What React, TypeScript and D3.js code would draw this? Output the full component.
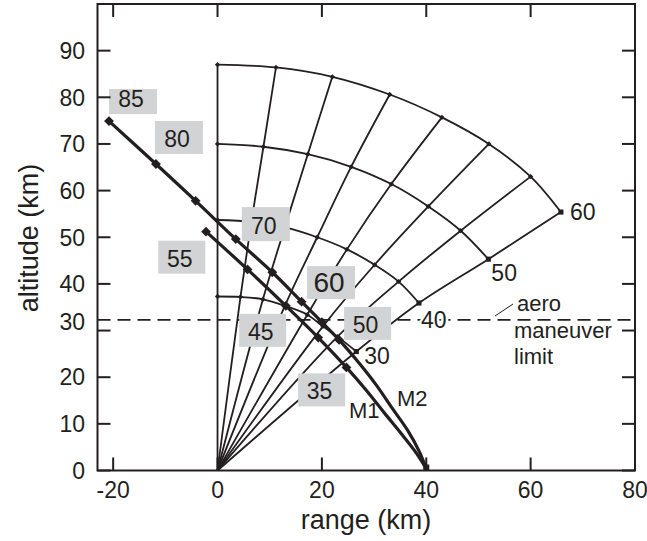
import React from 'react'
import * as d3 from 'd3'

type Pt = [number, number]

// flight-time contours (s); each row = crossing points of the 8 fan paths
const contourTimes = [30, 40, 50, 60]
const contour30: Pt[] = [[0, 37.3], [4.4, 37.2], [8.7, 36.7], [12.9, 35.3], [17.2, 33.4], [20.2, 30.9], [23, 28.7], [26.6, 25.5]]
const contour40: Pt[] = [[0, 53.7], [6.5, 53.3], [12.9, 52.1], [19.1, 50], [24.8, 47.4], [30.1, 44.1], [34.7, 40.5], [38.6, 35.9]]
const contour50: Pt[] = [[0, 70], [8.8, 69.4], [17.3, 67.8], [25.6, 65.1], [33.3, 61.4], [40.4, 56.6], [46.6, 51.4], [51.9, 45.3]]
const contour60: Pt[] = [[0, 87], [11.2, 86.4], [22, 84.4], [33, 80.6], [43, 75.7], [52, 70], [60, 63], [65.8, 55.4]]
const contours = [contour30, contour40, contour50, contour60]

// threat trajectories, first points carry time marks (s)
const m2Path: Pt[] = [[-20.8, 74.9], [-11.8, 65.7], [-4.2, 57.8], [3.5, 49.6], [10.5, 42.5], [16.1, 36.2], [20, 31.8], [23.3, 28], [27, 23.2], [30.5, 18.2], [33.5, 13.3], [36.5, 8.5], [38.6, 4.2], [40, 0.4]]
const m2Times = [85, 80, 75, 70, 65, 60, 55, 50]
const m2Boxed = [85, 80, 70, 60, 50]
const m1Path: Pt[] = [[-2.2, 51.2], [5.75, 43.1], [13.1, 35.3], [19.3, 28.5], [24.7, 22.1], [28.5, 17.2], [32, 12.3], [35, 8.2], [37.8, 4.2], [40, 0.4]]
const m1Times = [55, 50, 45, 40, 35]
const m1Boxed = [55, 45, 35]

const aeroLimit = 32.3
const xTicks = [-20, 0, 20, 40, 60, 80]
const yTicks = [0, 10, 20, 30, 40, 50, 60, 70, 80, 90]

const W = 647
const H = 541
const ink = '#231f20'
const boxFill = '#d1d3d4'
const font = '"Liberation Sans", Arial, Helvetica, sans-serif'

// box placement relative to its marker (px)
const boxPlace: Record<string, { dx: number; dy: number; w: number; h: number; fs: number }> = {
  'M2-85': { dx: 0, dy: -32, w: 48, h: 25, fs: 23 },
  'M2-80': { dx: -1, dy: -43, w: 48, h: 33, fs: 23 },
  'M2-70': { dx: 6, dy: -32, w: 48, h: 34, fs: 23 },
  'M2-60': { dx: 5.5, dy: -35.5, w: 48, h: 33, fs: 28 },
  'M2-50': { dx: 5, dy: -33, w: 47, h: 33, fs: 23 },
  'M1-55': { dx: -47.7, dy: 9, w: 47, h: 33, fs: 23 },
  'M1-45': { dx: -46.7, dy: 8, w: 47, h: 33, fs: 23 },
  'M1-35': { dx: -48.3, dy: 6, w: 47, h: 33, fs: 23 },
}

// contour end labels, offset from last point (px)
const endLabelOffset: Record<number, [number, number]> = {
  30: [8, 12],
  40: [2, 25],
  50: [3, 22],
  60: [9, 8],
}

const App = () => {
  const x = d3.scaleLinear().domain([-23, 80]).range([97.5, 635])
  const y = d3.scaleLinear().domain([0, 100]).range([470.5, 4])

  const smooth = d3
    .line<Pt>()
    .x((d) => x(d[0]))
    .y((d) => y(d[1]))
    .curve(d3.curveCatmullRom.alpha(0.5))

  const rays: Pt[][] = contour30.map((_, i) => [[0, 0], ...contours.map((c) => c[i])])

  const diamond = (size: number) => d3.symbol(d3.symbolSquare, size)()
  const [x0, x1] = x.range()
  const [y0, y1] = y.range()
  const tickLen = 13

  const marks = (path: Pt[], times: number[], boxed: number[], name: string) =>
    times.map((t, i) => {
      const [px, py] = [x(path[i][0]), y(path[i][1])]
      return { t, px, py, boxed: boxed.includes(t), key: `${name}-${t}` }
    })

  const m2Marks = marks(m2Path, m2Times, m2Boxed, 'M2')
  const m1Marks = marks(m1Path, m1Times, m1Boxed, 'M1')

  return (
    <svg
      width={W}
      height={H}
      viewBox={`0 0 ${W} ${H}`}
      style={{ position: 'absolute', left: 0, top: 0, background: '#fff' }}
      fontFamily={font}
    >
      <rect width={W} height={H} fill="#fff" />

      {/* fan of paths */}
      <g fill="none" stroke={ink} strokeWidth={1.8}>
        {rays.map((r, i) => (
          <path key={`r${i}`} d={smooth(r) ?? ''} />
        ))}
        {contours.map((c, i) => (
          <path key={`c${i}`} d={smooth(c) ?? ''} />
        ))}
      </g>
      <g fill={ink}>
        {contours.map((c, i) =>
          c.map((p, j) =>
            j === c.length - 1 ? (
              <path key={`e${i}`} d={diamond(26) ?? ''} transform={`translate(${x(p[0])},${y(p[1])})`} />
            ) : (
              <path
                key={`p${i}-${j}`}
                d={diamond(14) ?? ''}
                transform={`translate(${x(p[0])},${y(p[1])}) rotate(45)`}
              />
            ),
          ),
        )}
      </g>

      {/* aero maneuver limit */}
      <line
        x1={x0}
        x2={x1}
        y1={y(aeroLimit)}
        y2={y(aeroLimit)}
        stroke={ink}
        strokeWidth={1.8}
        strokeDasharray="13 7"
      />

      {/* trajectories */}
      <g fill="none" stroke={ink} strokeWidth={3.2} strokeLinecap="round">
        <path d={smooth(m2Path) ?? ''} />
        <path d={smooth(m1Path) ?? ''} />
      </g>
      <g fill={ink}>
        {[...m2Marks, ...m1Marks].map((m) => (
          <path key={m.key} d={diamond(48) ?? ''} transform={`translate(${m.px},${m.py}) rotate(45)`} />
        ))}
        <rect x={x(40) - 3} y={y(0) - 6} width={6} height={6} />
      </g>

      {/* contour labels */}
      <g fill={ink} fontSize={23}>
        {contours.map((c, i) => {
          const p = c[c.length - 1]
          const [dx, dy] = endLabelOffset[contourTimes[i]]
          return (
            <text
              key={`l${i}`}
              x={x(p[0]) + dx}
              y={y(p[1]) + dy}
              stroke={contourTimes[i] === 40 ? '#fff' : 'none'}
              strokeWidth={5}
              paintOrder="stroke"
            >
              {contourTimes[i]}
            </text>
          )
        })}
      </g>

      {/* boxed time labels */}
      {[...m2Marks, ...m1Marks]
        .filter((m) => m.boxed)
        .map((m) => {
          const b = boxPlace[m.key]
          return (
            <g key={`b${m.key}`}>
              <rect x={m.px + b.dx} y={m.py + b.dy} width={b.w} height={b.h} fill={boxFill} />
              <text
                x={m.px + b.dx + b.w / 2 - 2}
                y={m.py + b.dy + b.h - 7}
                textAnchor="middle"
                fontSize={b.fs}
                fill={ink}
              >
                {m.t}
              </text>
            </g>
          )
        })}

      {/* annotations */}
      <g fill={ink} fontSize={22}>
        <line x1={495} y1={316} x2={513} y2={304} stroke={ink} strokeWidth={1} />
        <text x={517} y={311}>aero</text>
        <text x={514} y={338}>maneuver</text>
        <text x={514} y={364}>limit</text>
        <text x={349} y={418}>M1</text>
        <text x={397} y={406}>M2</text>
      </g>

      {/* frame and ticks */}
      <g stroke={ink} strokeWidth={2} fill="none">
        <rect x={x0} y={y1} width={x1 - x0} height={y0 - y1} />
        {xTicks.map((t) => (
          <g key={`xt${t}`}>
            <line x1={x(t)} x2={x(t)} y1={y0} y2={y0 - tickLen} />
            <line x1={x(t)} x2={x(t)} y1={y1} y2={y1 + tickLen} />
          </g>
        ))}
        {yTicks.map((t) => (
          <g key={`yt${t}`}>
            <line x1={x0} x2={x0 + tickLen} y1={y(t)} y2={y(t)} />
            <line x1={x1} x2={x1 - tickLen} y1={y(t)} y2={y(t)} />
          </g>
        ))}
      </g>
      <g fill={ink} fontSize={23}>
        {xTicks.map((t) => (
          <text key={`xl${t}`} x={x(t)} y={498} textAnchor="middle">
            {t}
          </text>
        ))}
        {yTicks.map((t) => (
          <text key={`yl${t}`} x={85} y={y(t) + (t === 30 ? -9 : 0)} dy="0.36em" textAnchor="end">
            {t}
          </text>
        ))}
      </g>
      <text x={366} y={529} textAnchor="middle" fontSize={27} fill={ink}>
        range (km)
      </text>
      <text transform="translate(38,238) rotate(-90)" textAnchor="middle" fontSize={27} fill={ink}>
        altitude (km)
      </text>
    </svg>
  )
}

export default App
